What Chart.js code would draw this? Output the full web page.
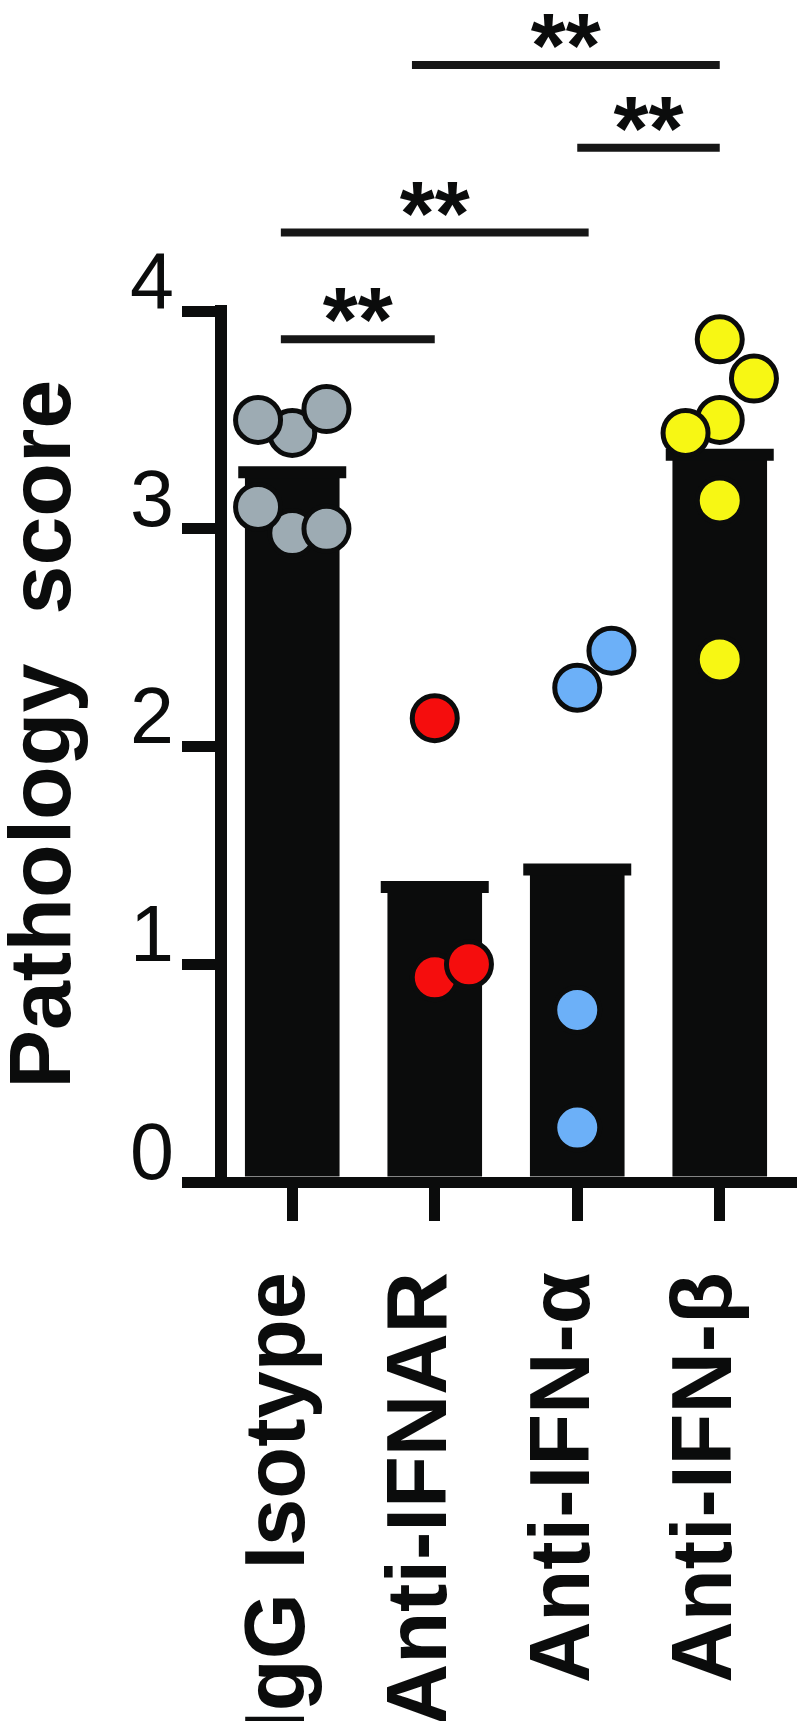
<!DOCTYPE html>
<html>
<head>
<meta charset="utf-8">
<title>Pathology score</title>
<script src="https://cdn.jsdelivr.net/npm/chart.js@4.4.1/dist/chart.umd.min.js"></script>
<style>
  html, body { margin: 0; padding: 0; background: #fff; }
  #wrap { width: 803px; height: 1721px; }
</style>
</head>
<body>
<div id="wrap"><canvas id="chart" width="803" height="1721"></canvas></div>
<script>
// Pathology score per treatment group: mean bars with the individual mice on top

const GROUPS = ["IgG Isotype", "Anti-IFNAR", "Anti-IFN-α", "Anti-IFN-β"];
const MEANS = [3.26, 1.355, 1.435, 3.34];
const Y_TICKS = [0, 1, 2, 3, 4];

// individual scores; x is the group index plus a small sideways shift
const IGG_X = [0, 0, -0.24, 0.24, -0.24, 0.24];
const IGG_Y = [2.98, 3.44, 3.10, 3.00, 3.50, 3.55];
const IFNAR_X = [1, 1.24, 1];
const IFNAR_Y = [0.94, 1.00, 2.13];
const ALPHA_X = [2.24, 2, 2, 2];
const ALPHA_Y = [2.44, 2.27, 0.79, 0.25];
const BETA_X = [3.24, 3, 3, 2.76, 3, 3];
const BETA_Y = [3.69, 3.87, 3.50, 3.44, 3.13, 2.40];

// significance brackets: span in group index, height in score units
const BRACKET_FROM = [-0.08, -0.08, 2, 0.84];
const BRACKET_TO = [1, 2.08, 3, 3];
const BRACKET_AT = [3.87, 4.36, 4.75, 5.13];
const BRACKET_MARK = ["**", "**", "**", "**"];

const INK = "#0b0c0c";
const FONT = "'Liberation Sans', Arial, Helvetica, sans-serif";

function pairs(xs, ys) {
  return xs.map((x, i) => ({ x, y: ys[i] }));
}

function dots(xs, ys, color) {
  return {
    type: "line",
    xAxisID: "xj",
    data: pairs(xs, ys),
    showLine: false,
    pointRadius: 22.5,
    pointHoverRadius: 22.5,
    pointBackgroundColor: color,
    pointBorderColor: INK,
    pointBorderWidth: 5,
    order: 1,
  };
}

const brackets = BRACKET_AT.map((at, i) => ({
  type: "line",
  xAxisID: "xj",
  data: [{ x: BRACKET_FROM[i], y: at }, { x: BRACKET_TO[i], y: at }],
  borderColor: "#161616",
  borderWidth: 8,
  pointRadius: 0,
  fill: false,
  clip: false,
  order: 0,
}));

// "**" centred over each bracket
const starsPlugin = {
  id: "stars",
  afterDatasetsDraw(chart) {
    const { ctx, scales } = chart;
    ctx.save();
    ctx.fillStyle = INK;
    ctx.font = "bold 90px " + FONT;
    ctx.textAlign = "center";
    ctx.textBaseline = "alphabetic";
    BRACKET_MARK.forEach((mark, i) => {
      const x = scales.xj.getPixelForValue((BRACKET_FROM[i] + BRACKET_TO[i]) / 2);
      const y = scales.y.getPixelForValue(BRACKET_AT[i]);
      ctx.fillText(mark, x, y + 12);
    });
    ctx.restore();
  },
};

new Chart(document.getElementById("chart"), {
  type: "bar",
  data: {
    labels: GROUPS,
    datasets: [
      {
        type: "bar",
        data: MEANS,
        backgroundColor: INK,
        grouped: false,
        barPercentage: 0.664,
        categoryPercentage: 1,
        order: 3,
      },
      {
        // mean line, a little wider than the bar
        type: "line",
        data: MEANS,
        showLine: false,
        pointStyle: "line",
        pointRadius: 54,
        pointHoverRadius: 54,
        pointBorderWidth: 12,
        pointBorderColor: INK,
        order: 2,
      },
      dots(IGG_X, IGG_Y, "#9dabb3"),
      dots(IFNAR_X, IFNAR_Y, "#f50d0d"),
      dots(ALPHA_X, ALPHA_Y, "#6cb0f8"),
      dots(BETA_X, BETA_Y, "#f7f714"),
      ...brackets,
    ],
  },
  options: {
    responsive: false,
    animation: false,
    events: [],
    layout: { autoPadding: false, padding: { top: 311, right: 12, left: 0, bottom: 0 } },
    plugins: { legend: { display: false }, tooltip: { enabled: false } },
    scales: {
      x: {
        type: "category",
        offset: true,
        grid: {
          offset: false,
          drawOnChartArea: false,
          tickLength: 39,
          tickWidth: 11,
          lineWidth: 11,
          color: INK,
          tickColor: INK,
        },
        border: { display: true, width: 11, color: INK },
        ticks: {
          autoSkip: false,
          minRotation: 90,
          maxRotation: 90,
          padding: 51,
          labelOffset: -12,
          color: INK,
          font: { family: FONT, size: 85, weight: "bold" },
        },
        afterFit: (s) => {
          s.height = 539;
          s.paddingLeft = 0;
          s.paddingRight = 0;
        },
      },
      // hidden linear twin of x, used to spread the dots and place the brackets
      xj: { type: "linear", min: -0.5, max: 3.5, offset: false, display: false },
      y: {
        min: 0,
        max: 4,
        afterBuildTicks: (s) => { s.ticks = Y_TICKS.map((v) => ({ value: v })); },
        grid: {
          drawOnChartArea: false,
          tickLength: 39,
          tickWidth: 11,
          lineWidth: 11,
          color: INK,
          tickColor: INK,
        },
        border: { display: true, width: 12, color: INK },
        ticks: {
          padding: 8,
          labelOffset: -25,
          color: INK,
          font: { family: FONT, size: 79, weight: "normal" },
        },
        title: {
          display: true,
          text: " Pathology  score",
          color: INK,
          padding: { top: 2, bottom: 0 },
          font: { family: FONT, size: 88, weight: "bold", lineHeight: 1 },
        },
        afterFit: (s) => { s.width = 221; },
      },
    },
  },
  plugins: [starsPlugin],
});
</script>
</body>
</html>
